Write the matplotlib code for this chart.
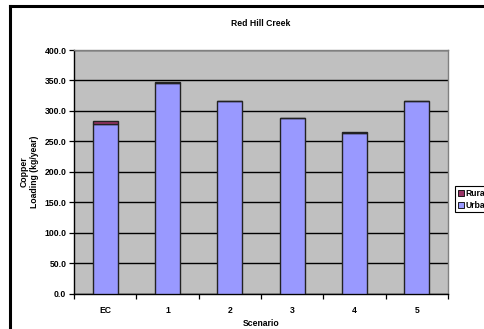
import matplotlib
matplotlib.use("Agg")
import matplotlib.pyplot as plt
import numpy as np
from matplotlib.patches import Rectangle
from matplotlib.lines import Line2D

plt.rcParams['font.family'] = ['Liberation Sans', 'DejaVu Sans']
plt.rcParams['font.weight'] = 'bold'

scenarios = ["EC", "1", "2", "3", "4", "5"]
urban = [278.0, 346.0, 315.5, 287.5, 264.0, 315.5]
rural = [6.0, 2.0, 0.8, 1.5, 1.0, 0.8]
y_ticks = [0, 50, 100, 150, 200, 250, 300, 350, 400]

FS = 6.2
W, H = 484, 329
fig = plt.figure(figsize=(W / 100, H / 100), dpi=100)
fig.patch.set_facecolor("white")

# outer chart-area frame (left and top edges visible)
fig.add_artist(Line2D([10 / W, 10 / W], [0, 1 - 6 / H], color="black", lw=2.2,
                      transform=fig.transFigure))
fig.add_artist(Line2D([10 / W, 1], [1 - 6 / H, 1 - 6 / H], color="black", lw=2.2,
                      transform=fig.transFigure))

left, right, top, bottom = 74, 448, 50, 293.5
ax = fig.add_axes([left / W, 1 - bottom / H, (right - left) / W, (bottom - top) / H])
ax.set_facecolor("#C0C0C0")

x = np.arange(len(scenarios))
ax.bar(x, urban, width=0.4, color="#9999FF", edgecolor="#222222", linewidth=1.0,
       zorder=3, label="Urban")
ax.bar(x, rural, width=0.4, bottom=urban, color="#993366", edgecolor="#222222",
       linewidth=1.0, zorder=3, label="Rural")

ax.set_xlim(-0.5, len(scenarios) - 0.5)
ax.set_ylim(0, 400)
ax.set_yticks(y_ticks)
ax.set_yticklabels([f"{v:.1f}" for v in y_ticks], fontsize=FS, fontweight="bold")
ax.yaxis.grid(True, color="black", linewidth=1.0, zorder=1)
ax.set_axisbelow(True)

ax.set_xticks(x)
ax.set_xticklabels(scenarios, fontsize=FS, fontweight="bold")
ax.tick_params(axis="x", which="major", length=0, pad=9)
ax.set_xticks(np.arange(-0.5, len(scenarios)), minor=True)
ax.tick_params(axis="x", which="minor", length=3.5, width=0.9, direction="out")
ax.tick_params(axis="y", length=3.5, width=0.9, direction="out", pad=2)

for s in ["top", "right"]:
    ax.spines[s].set_color("#808080")
    ax.spines[s].set_linewidth(1.0)
for s in ["left", "bottom"]:
    ax.spines[s].set_color("black")
    ax.spines[s].set_linewidth(1.0)

ax.set_xlabel("Scenario", fontsize=FS, fontweight="bold", labelpad=3)
ax.set_ylabel("Copper\nLoading (kg/year)", fontsize=FS, fontweight="bold", labelpad=4)

fig.text((left + right) / 2 / W, 1 - 23 / H, "Red Hill Creek", fontsize=FS,
         fontweight="bold", ha="center", va="center")

# legend box, running off the right edge
lx, ly = 455 / W, 1 - 212 / H
fig.add_artist(Rectangle((lx, ly), 0.2, 26 / H, transform=fig.transFigure,
                         facecolor="white", edgecolor="black", linewidth=0.8))
entries = [("Rural", "#993366", 193), ("Urban", "#9999FF", 205)]
for name, col, yy in entries:
    fig.add_artist(Rectangle((458 / W, 1 - (yy + 3) / H), 6 / W, 6 / H,
                             transform=fig.transFigure, facecolor=col,
                             edgecolor="black", linewidth=0.6))
    fig.text(465 / W, 1 - yy / H, name, fontsize=FS, fontweight="bold",
             ha="left", va="center")

fig.savefig("out.png", dpi=100)
